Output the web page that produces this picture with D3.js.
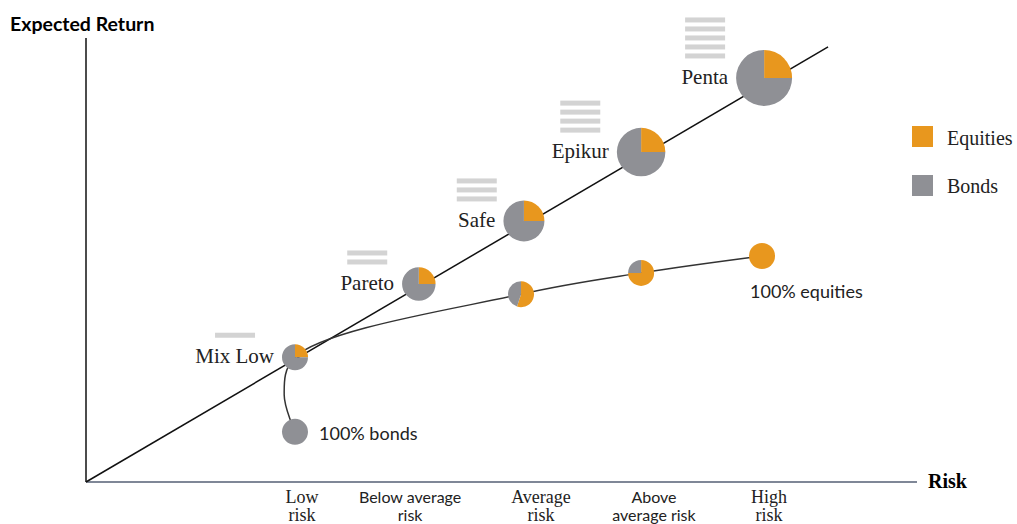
<!DOCTYPE html>
<html>
<head>
<meta charset="utf-8">
<script src="https://cdn.jsdelivr.net/npm/d3@7"></script>
<style>
  body { margin: 0; background: #fff; }
  .serif { font-family: "Liberation Serif", "Times New Roman", serif; }
  .sans { font-family: Lato, "Liberation Sans", sans-serif; }
</style>
</head>
<body>
<script>
// funds on the straight line
var fundNames = ["Mix Low", "Pareto", "Safe", "Epikur", "Penta"];
var fundRisk = [5.03, 8.01, 10.54, 13.36, 16.32];
var fundReturn = [2.81, 4.46, 5.88, 7.43, 9.10];
var fundEquity = [25, 25, 25, 25, 25];
var fundLevel = [1, 2, 3, 4, 5];

// efficient frontier curve
var frontierRisk = [5.03, 4.77, 5.03, 10.47, 13.36, 16.27];
var frontierReturn = [1.13, 1.96, 2.81, 4.23, 4.71, 5.09];

// plain portfolios on the curve
var portRisk = [5.03, 10.47, 13.36, 16.27];
var portReturn = [1.13, 4.23, 4.71, 5.09];
var portEquity = [0, 55, 75, 100];

var lineStart = [0, 0], lineEnd = [17.86, 9.80];

var tickRisk = [5.2, 7.8, 10.95, 13.67, 16.44];
var tickLabels = [["Low", "risk"], ["Below average", "risk"], ["Average", "risk"],
                  ["Above", "average risk"], ["High", "risk"]];

var legendLabels = ["Equities", "Bonds"];

var orange = "#E8971E", grey = "#8F9095", barGrey = "#D3D3D3";

var W = 1017, H = 524;
var svg = d3.select("body").append("svg").attr("width", W).attr("height", H);

var x = d3.scaleLinear().domain([0, 20]).range([86, 917]);
var y = d3.scaleLinear().domain([0, 10]).range([482, 38]);
var r = d3.scaleLinear().domain([1, 5]).range([13, 28]);

// axes
svg.append("line").attr("x1", x(0)).attr("x2", x(0)).attr("y1", 38).attr("y2", y(0))
  .attr("stroke", "#111").attr("stroke-width", 1.5);
svg.append("line").attr("x1", x(0)).attr("x2", x(20)).attr("y1", y(0)).attr("y2", y(0))
  .attr("stroke", "#7F8797").attr("stroke-width", 2);

svg.append("text").attr("class", "sans").attr("x", 10).attr("y", 31)
  .style("font-size", "19.5px").style("font-weight", "bold").text("Expected Return");
svg.append("text").attr("class", "serif").attr("x", 928).attr("y", 488)
  .style("font-size", "20px").style("font-weight", "bold").text("Risk");

// tick labels
var tk = svg.selectAll(".tick").data(tickLabels).enter().append("text")
  .attr("class", function(d, i) { return i % 2 ? "sans" : "serif"; })
  .attr("text-anchor", "middle")
  .style("font-size", function(d, i) { return i % 2 ? "16px" : "18px"; })
  .attr("fill", "#222");
tk.append("tspan").attr("x", function(d, i) { return x(tickRisk[i]); }).attr("y", 503)
  .text(function(d) { return d[0]; });
tk.append("tspan").attr("x", function(d, i) { return x(tickRisk[i]); }).attr("y", 521)
  .text(function(d) { return d[1]; });

// straight line
svg.append("line").attr("x1", x(lineStart[0])).attr("y1", y(lineStart[1]))
  .attr("x2", x(lineEnd[0])).attr("y2", y(lineEnd[1]))
  .attr("stroke", "#111").attr("stroke-width", 1.5);

// frontier curve
var curve = d3.line().x(function(d) { return x(d[0]); }).y(function(d) { return y(d[1]); })
  .curve(d3.curveCatmullRom.alpha(0.5));
svg.append("path").datum(frontierRisk.map(function(v, i) { return [v, frontierReturn[i]]; }))
  .attr("d", curve).attr("fill", "none").attr("stroke", "#333").attr("stroke-width", 1.5);

var pie = d3.pie().sort(null);
var arc = d3.arc().innerRadius(0);

function drawPie(cx, cy, rad, eq) {
  var g = svg.append("g").attr("transform", "translate(" + cx + "," + cy + ")");
  g.selectAll("path").data(pie([eq, 100 - eq]).filter(function(d) { return d.value > 0; }))
    .enter().append("path")
    .attr("d", function(d) { return arc.outerRadius(rad)(d); })
    .attr("fill", function(d) { return d.index === 0 ? orange : grey; });
}

portRisk.forEach(function(v, i) { drawPie(x(v), y(portReturn[i]), 13, portEquity[i]); });

// funds
fundNames.forEach(function(name, i) {
  var cx = x(fundRisk[i]), cy = y(fundReturn[i]), rad = r(fundLevel[i]);
  drawPie(cx, cy, rad, fundEquity[i]);
  var tx = cx - rad - 8, base = cy + 6;
  var t = svg.append("text").attr("class", "serif").attr("x", tx).attr("y", base)
    .attr("text-anchor", "end").style("font-size", "21px").attr("fill", "#222").text(name);
  var bb = t.node().getBBox();
  var mid = bb.x + bb.width / 2;
  for (var k = 0; k < fundLevel[i]; k++) {
    svg.append("rect").attr("x", mid - 20).attr("y", base - 30.5 - k * 9)
      .attr("width", 40).attr("height", 5).attr("fill", barGrey);
  }
});

svg.append("text").attr("class", "sans").attr("x", 319).attr("y", 440)
  .style("font-size", "18px").attr("fill", "#222").text("100% bonds");
svg.append("text").attr("class", "sans").attr("x", 750).attr("y", 298)
  .style("font-size", "18px").attr("fill", "#222").text("100% equities");

// legend
legendLabels.forEach(function(l, i) {
  svg.append("rect").attr("x", 912).attr("y", 126 + i * 49).attr("width", 21).attr("height", 21)
    .attr("fill", i === 0 ? orange : grey);
  svg.append("text").attr("class", "serif").attr("x", 947).attr("y", 145 + i * 48)
    .style("font-size", "20px").attr("fill", "#222").text(l);
});
</script>
</body>
</html>
